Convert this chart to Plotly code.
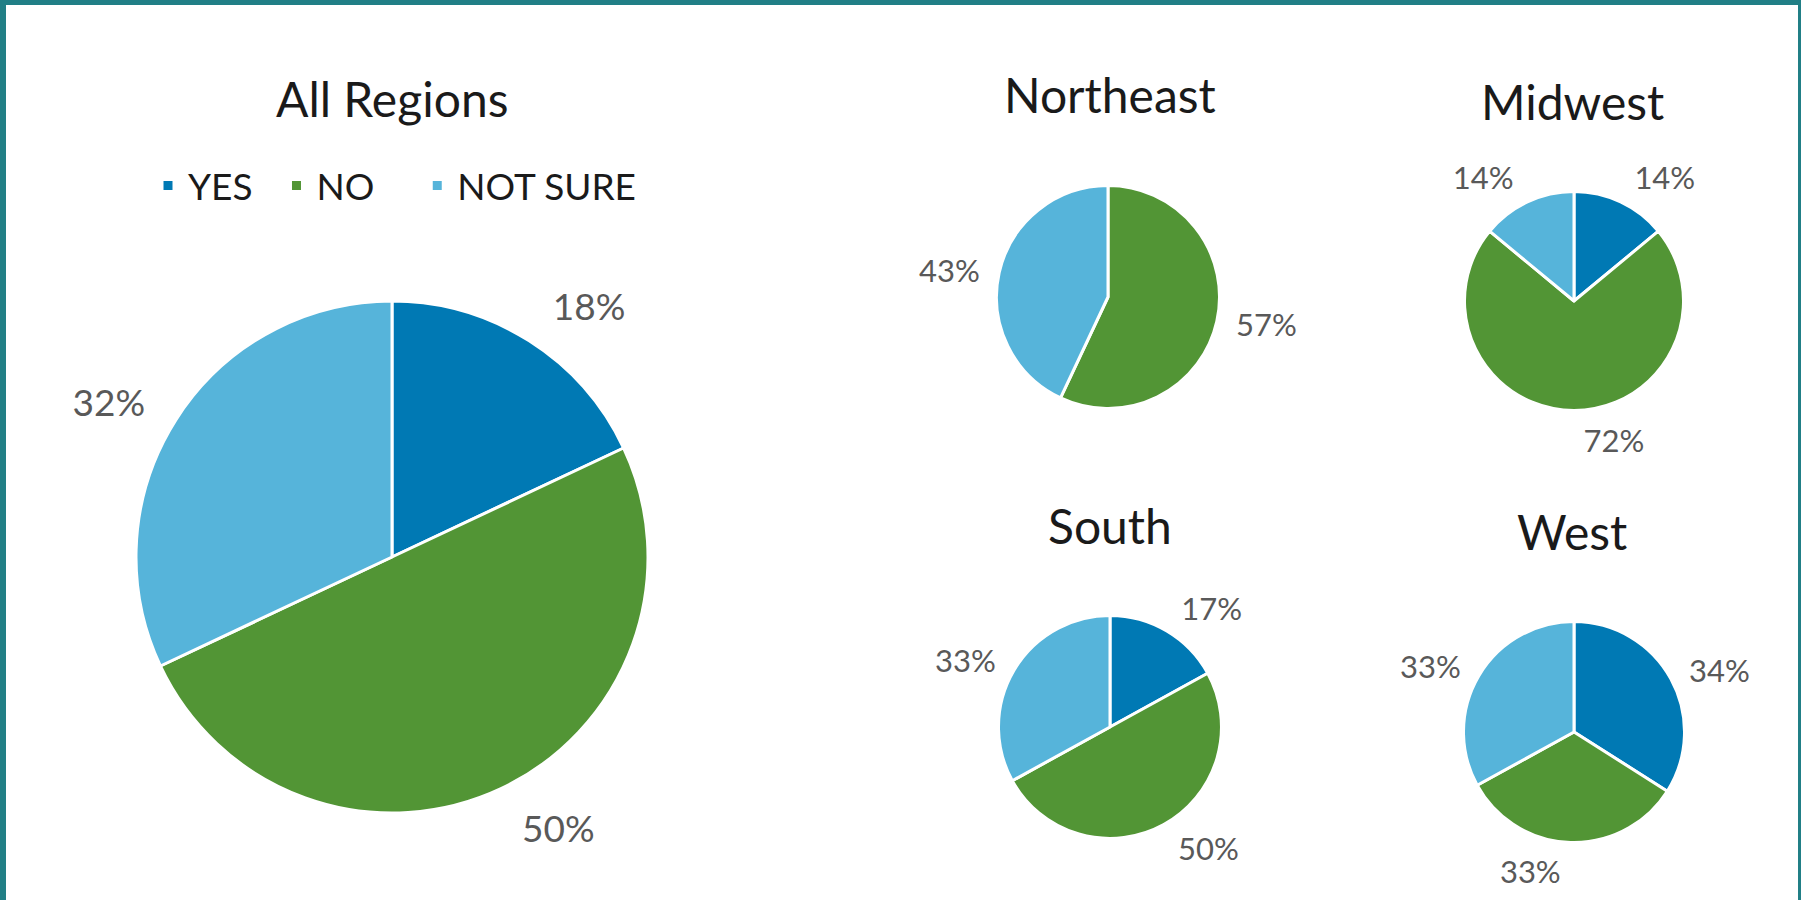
import plotly.graph_objects as go

categories = ["YES", "NO", "NOT SURE"]
colors = ["#0079B4", "#529535", "#56B4DA"]

all_regions = [18, 50, 32]
northeast = [0, 57, 43]
midwest = [14, 72, 14]
south = [17, 50, 33]
west = [34, 33, 33]

FONT = "Lato"
W, H = 1801, 900

# name, values, center px (x, y from top), radius px, label font, label gap px, legend?
panels = [
    ("All Regions", all_regions, (392, 557), 256, 37, 23, True),
    ("Northeast", northeast, (1108, 297), 111.5, 31, 10, False),
    ("Midwest", midwest, (1574, 301), 109.5, 31, 10, False),
    ("South", south, (1110, 727), 111.5, 31, 10, False),
    ("West", west, (1574, 732), 110.5, 31, 10, False),
]

title_pos = {
    "All Regions": (392, 99),
    "Northeast": (1110, 95),
    "Midwest": (1572, 101),
    "South": (1110, 525),
    "West": (1572, 531),
}


def dom(c, r):
    cx, cy = c
    return dict(x=[(cx - r) / W, (cx + r) / W],
                y=[1 - (cy + r) / H, 1 - (cy - r) / H])


legend_labels = [categories[0] + "\u00a0" * 2,
                 categories[1] + "\u00a0" * 4,
                 categories[2]]

fig = go.Figure()

# visible pies
for name, vals, c, r, fs, gap, show in panels:
    fig.add_trace(go.Pie(
        labels=legend_labels,
        values=vals,
        sort=False,
        direction="clockwise",
        rotation=0,
        marker=dict(colors=colors, line=dict(color="white", width=3)),
        textinfo="none",
        domain=dom(c, r),
        showlegend=show,
        hovertemplate="%{label}: %{value}%<extra>" + name + "</extra>",
        name=name,
    ))

# transparent label carriers (slightly larger radius so labels sit farther out)
for name, vals, c, r, fs, gap, show in panels:
    fig.add_trace(go.Pie(
        labels=legend_labels,
        values=vals,
        sort=False,
        direction="clockwise",
        rotation=0,
        marker=dict(colors=["rgba(0,0,0,0)"] * 3, line=dict(width=0)),
        texttemplate=["%{value}%" if v > 0 else "" for v in vals],
        textposition="outside",
        textfont=dict(family=FONT, size=fs, color="#595959"),
        domain=dom(c, r + gap),
        showlegend=False,
        hoverinfo="skip",
        name=name + " labels",
    ))

annotations = []
for name, (px, py) in title_pos.items():
    annotations.append(dict(
        text=name, x=px / W, y=1 - py / H, xref="paper", yref="paper",
        xanchor="center", yanchor="middle", showarrow=False,
        font=dict(family=FONT, size=48, color="#1a1a1a"),
    ))

teal = "#217F86"
shapes = [
    dict(type="rect", xref="paper", yref="paper", x0=0, x1=1, y0=1 - 5 / H, y1=1,
         fillcolor=teal, line=dict(width=0), layer="above"),
    dict(type="rect", xref="paper", yref="paper", x0=0, x1=6 / W, y0=0, y1=1,
         fillcolor=teal, line=dict(width=0), layer="above"),
    dict(type="rect", xref="paper", yref="paper", x0=1 - 3 / W, x1=1, y0=0, y1=1,
         fillcolor=teal, line=dict(width=0), layer="above"),
]

fig.update_layout(
    width=W, height=H,
    margin=dict(l=0, r=0, t=0, b=0),
    paper_bgcolor="white",
    plot_bgcolor="white",
    annotations=annotations,
    shapes=shapes,
    legend=dict(
        orientation="h",
        x=148 / W, y=1 - 186 / H,
        xanchor="left", yanchor="middle",
        font=dict(family=FONT, size=37, color="#1a1a1a"),
        bgcolor="rgba(0,0,0,0)",
    ),
)

fig.write_html("out.html", config={"displayModeBar": False},
               post_script="document.body.style.margin='0px';")
